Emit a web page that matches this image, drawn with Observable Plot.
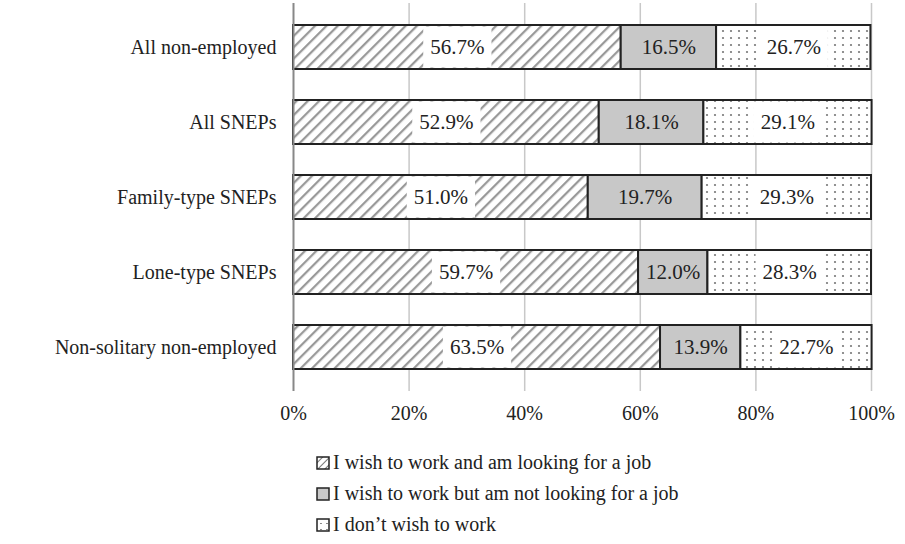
<!DOCTYPE html>
<html><head><meta charset="utf-8">
<script src="https://cdn.jsdelivr.net/npm/d3@7"></script>
<script src="https://cdn.jsdelivr.net/npm/@observablehq/plot@0.6"></script>
<style>
body{margin:0;background:#fff;font-family:'Liberation Serif','Times New Roman','DejaVu Serif','Noto Serif',serif;}
#legend{margin-left:316px;margin-top:7px;font-size:20px;color:#222;}
#legend .row{height:31px;line-height:31px;display:flex;align-items:center;}
#legend svg{margin-right:3px;}
#chart svg, #chart svg text{font-family:'Liberation Serif','Times New Roman','DejaVu Serif','Noto Serif',serif !important;}
</style></head>
<body>
<div id="chart"></div>
<div id="legend"></div>
<script>
const categories = ["All non-employed","All SNEPs","Family-type SNEPs","Lone-type SNEPs","Non-solitary non-employed"];
const series = ["I wish to work and am looking for a job","I wish to work but am not looking for a job","I don\u2019t wish to work"];
const looking = [56.7,52.9,51.0,59.7,63.5];
const notLooking = [16.5,18.1,19.7,12.0,13.9];
const noWish = [26.7,29.1,29.3,28.3,22.7];
const xTicks = [0,20,40,60,80,100];

const fills = ["url(#hatch)","#c8c8c8","url(#dots)"];
const valueArrays = [looking, notLooking, noWish];
const table = [];
categories.forEach((c,i)=>{
  series.forEach((s,j)=>table.push({category:c, series:s, value:valueArrays[j][i]}));
});

const plot = Plot.plot({
  width:905, height:440,
  marginLeft:293, marginRight:34, marginTop:3, marginBottom:49,
  style:{fontSize:"20px", color:"#222", background:"#fff"},
  x:{domain:[0,100], ticks:xTicks, tickFormat:d=>d+"%", tickSize:0, tickPadding:14, label:null, grid:false},
  y:{domain:categories, paddingInner:0.42, paddingOuter:0.28, tickSize:0, tickPadding:17, label:null},
  color:{domain:series, range:fills},
  marks:[
    Plot.ruleX(xTicks.slice(1), {stroke:"#c8c8c8", strokeWidth:1.5}),
    Plot.barX(table, Plot.stackX({y:"category", x:"value", fill:"series", stroke:"#222", strokeWidth:2})),
    Plot.ruleX([0], {stroke:"#888", strokeWidth:2}),
    Plot.text(table, Plot.stackX({y:"category", x:"value", z:"series", text:d=>d.value.toFixed(1)+"%", fill:"#222", fontSize:21}))
  ]
});
document.getElementById("chart").appendChild(plot);

const svg = d3.select(plot);
const defs = svg.insert("defs", ":first-child");
const h = defs.append("pattern").attr("id","hatch").attr("patternUnits","userSpaceOnUse")
  .attr("width",8).attr("height",8).attr("patternTransform","rotate(45)");
h.append("rect").attr("width",8).attr("height",8).attr("fill","#fff");
h.append("line").attr("x1",1).attr("y1",0).attr("x2",1).attr("y2",8).attr("stroke","#999").attr("stroke-width",2.5);
const dp = defs.append("pattern").attr("id","dots").attr("patternUnits","userSpaceOnUse")
  .attr("width",8).attr("height",7);
dp.append("rect").attr("width",8).attr("height",7).attr("fill","#fff");
dp.append("circle").attr("cx",3).attr("cy",3).attr("r",1.1).attr("fill","#777");

// white label backgrounds (not on the grey segment), positioned from the rendered text boxes
const barRects = plot.querySelectorAll("g[aria-label='bar'] rect");
const textGroup = plot.querySelector("g[aria-label='text']");
const texts = textGroup.querySelectorAll("text");
const bg = document.createElementNS("http://www.w3.org/2000/svg","g");
textGroup.parentNode.insertBefore(bg, textGroup);
const svgCTMInv = plot.getScreenCTM().inverse();
texts.forEach((t,i)=>{
  if (table[i].series === series[1]) return;
  const b = t.getBBox();
  const m = svgCTMInv.multiply(t.getScreenCTM());
  const x0 = m.a*b.x + m.e;
  const rb = barRects[i].getBBox();
  const rm = svgCTMInv.multiply(barRects[i].getScreenCTM());
  const by = rm.d*rb.y + rm.f;
  const rect = document.createElementNS("http://www.w3.org/2000/svg","rect");
  rect.setAttribute("x", x0-7); rect.setAttribute("width", b.width+14);
  rect.setAttribute("y", by+1.5); rect.setAttribute("height", rb.height-3);
  rect.setAttribute("fill","#fff");
  bg.appendChild(rect);
});

// legend
const leg = d3.select("#legend");
series.forEach((s,j)=>{
  const row = leg.append("div").attr("class","row");
  const sw = row.append("svg").attr("width",14).attr("height",14);
  const sd = sw.append("defs");
  if (j===0){
    const p = sd.append("pattern").attr("id","lh").attr("patternUnits","userSpaceOnUse").attr("width",5).attr("height",5).attr("patternTransform","rotate(45)");
    p.append("rect").attr("width",5).attr("height",5).attr("fill","#fff");
    p.append("line").attr("x1",0).attr("y1",0).attr("x2",0).attr("y2",5).attr("stroke","#777").attr("stroke-width",2);
  }
  if (j===2){
    const p = sd.append("pattern").attr("id","ld").attr("patternUnits","userSpaceOnUse").attr("width",6).attr("height",6);
    p.append("rect").attr("width",6).attr("height",6).attr("fill","#fff");
    p.append("circle").attr("cx",5).attr("cy",6).attr("r",0.9).attr("fill","#555");
  }
  sw.append("rect").attr("x",1).attr("y",1).attr("width",12).attr("height",12)
    .attr("fill", j===0?"url(#lh)":j===1?"#c8c8c8":"url(#ld)").attr("stroke","#222").attr("stroke-width",1.5);
  row.append("span").text(s);
});
</script>
</body></html>
